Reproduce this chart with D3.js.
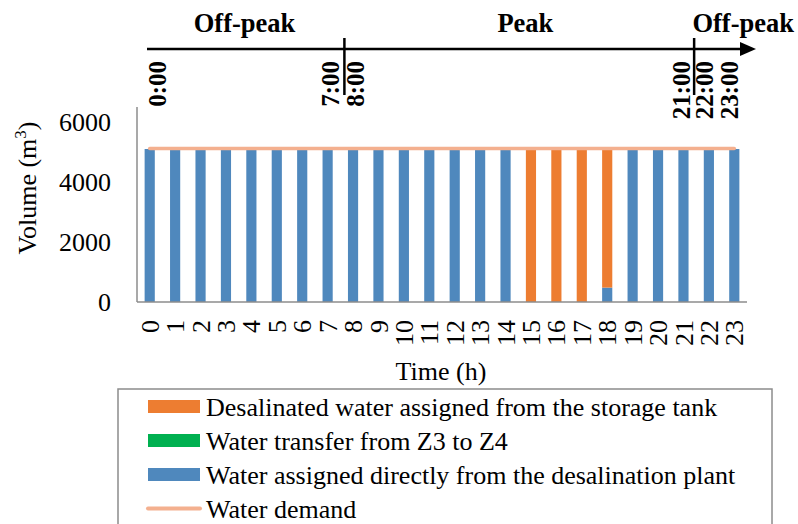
<!DOCTYPE html>
<html>
<head>
<meta charset="utf-8">
<script src="https://cdn.jsdelivr.net/npm/d3@7"></script>
<style>
  body { margin: 0; background: #fff; }
  svg, svg text { font-family: "Liberation Serif", "Times New Roman", serif; }
  .ejes text { font-size: 26px; fill: #000; }
  .ejes path { stroke: #8c8c8c; stroke-width: 1.5; }
  .labels { font-size: 26px; fill: #000; }
  .periodo { font-size: 26.5px; font-weight: bold; }
  .hora { font-size: 25px; font-weight: bold; }
  .leyenda { font-size: 26px; }
</style>
</head>
<body>
<div id="graf"></div>
<script>
// hourly data
const hours = ["0","1","2","3","4","5","6","7","8","9","10","11","12","13","14","15","16","17","18","19","20","21","22","23"]
const direct = [5100,5100,5100,5100,5100,5100,5100,5100,5100,5100,5100,5100,5100,5100,5100,0,0,0,480,5100,5100,5100,5100,5100]
const transfer = [0,0,0,0,0,0,0,0,0,0,0,0,0,0,0,0,0,0,0,0,0,0,0,0]
const storage = [0,0,0,0,0,0,0,0,0,0,0,0,0,0,0,5100,5100,5100,4620,0,0,0,0,0]
const demand = [5120,5120,5120,5120,5120,5120,5120,5120,5120,5120,5120,5120,5120,5120,5120,5120,5120,5120,5120,5120,5120,5120,5120,5120]
const yTicks = [0, 2000, 4000, 6000]

// tariff timeline on top (positions in hour units)
const periodNames = ["Off-peak", "Peak", "Off-peak"]
const periodPos = [3.73, 14.78, 23.35]
const periodBounds = [7.66, 21.42]
const timeLabels = ["0:00", "7:00", "8:00", "21:00", "22:00", "23:00"]
const timeLabelPos = [0.3, 7.1, 8.1, 20.9, 21.8, 22.8]

const series = [
  { key: "direct", name: "Water assigned directly from the desalination plant", color: "#4f88bd" },
  { key: "transfer", name: "Water transfer from Z3 to Z4", color: "#00b050" },
  { key: "storage", name: "Desalinated water assigned from the storage tank", color: "#ed7d31" },
]
const demandColor = "#f4b08f"

const anchoTotal = 798
const altoTotal = 524
const margins = { left: 137, top: 107, right: 51, bottom: 222 }
const ancho = anchoTotal - margins.left - margins.right
const alto = altoTotal - margins.top - margins.bottom

const svg = d3.select("#graf")
  .append("svg")
  .attr("width", anchoTotal)
  .attr("height", altoTotal)

const g = svg.append("g")
  .attr("transform", `translate(${margins.left}, ${margins.top})`)

const x = d3.scaleBand().domain(hours).range([0, ancho]).paddingInner(0.6).paddingOuter(0.3)
const y = d3.scaleLinear().domain([0, 6500]).range([alto, 0])

const tabla = hours.map((h, i) => ({ hour: h, direct: direct[i], transfer: transfer[i], storage: storage[i] }))
const stack = d3.stack().keys(series.map((s) => s.key))(tabla)
const color = d3.scaleOrdinal().domain(series.map((s) => s.key)).range(series.map((s) => s.color))

// bars
g.selectAll("g.capa")
  .data(stack)
  .join("g")
  .attr("class", "capa")
  .attr("fill", (d) => color(d.key))
  .selectAll("rect")
  .data((d) => d)
  .join("rect")
  .attr("x", (d) => x(d.data.hour))
  .attr("y", (d) => y(d[1]))
  .attr("width", x.bandwidth())
  .attr("height", (d) => y(d[0]) - y(d[1]))

// demand line
const linea = d3.line()
  .x((d, i) => x(hours[i]) + x.bandwidth() / 2)
  .y((d) => y(d))

g.append("path")
  .datum(demand)
  .attr("d", linea)
  .attr("fill", "none")
  .attr("stroke", demandColor)
  .attr("stroke-width", 3.5)
  .attr("stroke-linecap", "round")

// axes
const yAxis = d3.axisLeft(y).tickValues(yTicks).tickSize(0).tickPadding(26).tickFormat(d3.format("d"))
g.append("g").attr("class", "ejes").call(yAxis)
  .attr("font-family", null).attr("font-size", null)
  .call((s) => s.select(".domain").attr("d", `M0,${y(6500)}V${alto}`))

const xAxis = d3.axisBottom(x).tickSize(0)
g.append("g")
  .attr("class", "ejes")
  .attr("transform", `translate(0, ${alto})`)
  .call(xAxis)
  .attr("font-family", null).attr("font-size", null)
  .call((s) => s.select(".domain").attr("d", `M0,0H${ancho}`))
  .selectAll("text")
  .attr("transform", "rotate(-90)")
  .attr("x", -18)
  .attr("y", 0)
  .attr("dy", "0.35em")
  .attr("text-anchor", "end")

g.append("text")
  .attr("class", "labels")
  .attr("x", 304)
  .attr("y", alto + 78)
  .attr("text-anchor", "middle")
  .text("Time (h)")

const yLab = svg.append("text")
  .attr("class", "labels")
  .attr("transform", "translate(36, 188) rotate(-90)")
  .attr("text-anchor", "middle")
yLab.append("tspan").text("Volume (m")
yLab.append("tspan").attr("font-size", "17px").attr("dy", -10).text("3")
yLab.append("tspan").attr("dy", 10).text(")")

// timeline on top, drawn in the same hour units as the bars
const hx = (h) => margins.left + x(hours[0]) + x.bandwidth() / 2 + h * x.step()
const tl = svg.append("g")
tl.append("line")
  .attr("x1", 147).attr("x2", 744)
  .attr("y1", 49).attr("y2", 49)
  .attr("stroke", "#000").attr("stroke-width", 2.5)
tl.append("path")
  .attr("d", "M740,42L756,49L740,56Z")
  .attr("fill", "#000")

tl.selectAll("line.corte")
  .data(periodBounds)
  .join("line")
  .attr("class", "corte")
  .attr("x1", (d) => hx(d)).attr("x2", (d) => hx(d))
  .attr("y1", 38).attr("y2", 95)
  .attr("stroke", "#000").attr("stroke-width", 2.5)

tl.selectAll("text.periodo")
  .data(periodNames)
  .join("text")
  .attr("class", "periodo")
  .attr("x", (d, i) => hx(periodPos[i]))
  .attr("y", 32)
  .attr("text-anchor", "middle")
  .text((d) => d)

tl.selectAll("text.hora")
  .data(timeLabels)
  .join("text")
  .attr("class", "hora")
  .attr("transform", (d, i) => `translate(${hx(timeLabelPos[i])}, 61) rotate(-90)`)
  .attr("dy", "0.35em")
  .attr("text-anchor", "end")
  .text((d) => d)

// legend
const ley = svg.append("g")
ley.append("rect")
  .attr("x", 118).attr("y", 389)
  .attr("width", 654).attr("height", 150)
  .attr("fill", "none")
  .attr("stroke", "#8c8c8c").attr("stroke-width", 1.5)

const items = [series[2], series[1], series[0], { key: "demand", name: "Water demand", color: demandColor }]
const fila = ley.selectAll("g.item")
  .data(items)
  .join("g")
  .attr("class", "item")
  .attr("transform", (d, i) => `translate(148, ${406.5 + i * 34})`)

fila.filter((d) => d.key !== "demand")
  .append("rect")
  .attr("x", 0).attr("y", -6.5)
  .attr("width", 52).attr("height", 13)
  .attr("fill", (d) => d.color)

fila.filter((d) => d.key === "demand")
  .append("line")
  .attr("x1", 0).attr("x2", 52)
  .attr("y1", 0).attr("y2", 0)
  .attr("stroke", (d) => d.color)
  .attr("stroke-width", 4)
  .attr("stroke-linecap", "round")

fila.append("text")
  .attr("class", "leyenda")
  .attr("x", 58)
  .attr("dy", "0.36em")
  .text((d) => d.name)
</script>
</body>
</html>
